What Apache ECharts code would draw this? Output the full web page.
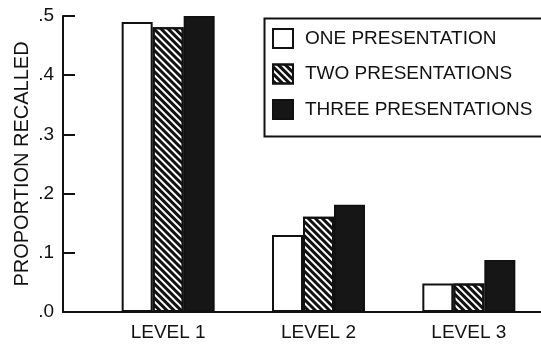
<!DOCTYPE html>
<html>
<head>
<meta charset="utf-8">
<script src="https://cdn.jsdelivr.net/npm/echarts@6/dist/echarts.min.js"></script>
<style>
html,body{margin:0;padding:0;background:#fff;}
#chart{width:541px;height:344px;}
</style>
</head>
<body>
<div id="chart"></div>
<script>
const categories = ['LEVEL 1', 'LEVEL 2', 'LEVEL 3'];
const seriesNames = ['ONE PRESENTATION', 'TWO PRESENTATIONS', 'THREE PRESENTATIONS'];
const onePresentation = [0.49, 0.13, 0.048];
const twoPresentations = [0.481, 0.161, 0.048];
const threePresentations = [0.50, 0.181, 0.088];
const yTicks = ['.0', '.1', '.2', '.3', '.4', '.5'];
const yTitle = 'PROPORTION RECALLED';

const FONT = 'Liberation Sans, Arial, Helvetica, sans-serif';
const INK = '#111';

const chart = echarts.init(document.getElementById('chart'), null, {renderer: 'canvas'});

const hatch = {
  symbol: 'rect',
  symbolSize: 1,
  color: INK,
  dashArrayX: [1, 0],
  dashArrayY: [2.4, 2],
  rotation: Math.PI / 4
};

chart.setOption({
  animation: false,
  backgroundColor: '#fff',
  textStyle: {fontFamily: FONT, color: INK},
  grid: [
    {left: 63, right: 0, top: 16, bottom: 32, outerBoundsMode: 'none'},
    {left: 93, right: -3, top: 16, bottom: 32, outerBoundsMode: 'none'},
    {left: 63, right: 466, top: 16, bottom: 32, outerBoundsMode: 'none'}
  ],
  legend: {
    orient: 'vertical',
    left: 262,
    top: 16,
    padding: [12, 0, 17, 10],
    itemWidth: 20,
    itemHeight: 19,
    itemGap: 14.5,
    selectedMode: false,
    icon: 'rect',
    textStyle: {fontFamily: FONT, fontSize: 19, color: INK, padding: [0, 0, 0, 7]},
    data: seriesNames
  },
  graphic: [{
    type: 'rect', left: 262, top: 16, silent: true,
    shape: {width: 320, height: 118},
    style: {fill: 'none', stroke: INK, lineWidth: 2}
  }],
  xAxis: [
    {
      type: 'value', gridIndex: 0,
      axisLine: {show: true, onZero: false, lineStyle: {color: INK, width: 2}},
      axisTick: {show: false}, axisLabel: {show: false}, splitLine: {show: false}
    },
    {
      type: 'category', gridIndex: 1, data: categories,
      axisLine: {show: false}, axisTick: {show: false},
      axisLabel: {fontFamily: FONT, fontSize: 19, color: INK, margin: 11}
    },
    {
      type: 'value', gridIndex: 2, show: false
    }
  ],
  yAxis: [
    {
      type: 'value', gridIndex: 0, min: 0, max: 0.5, interval: 0.1,
      name: yTitle, nameLocation: 'middle', nameRotate: 90, nameGap: 31,
      nameMoveOverlap: false,
      nameTextStyle: {fontFamily: FONT, fontSize: 20, color: INK},
      axisLine: {show: true, onZero: false, lineStyle: {color: INK, width: 2}},
      axisTick: {show: false},
      axisLabel: {
        fontFamily: FONT, fontSize: 19, color: INK, margin: 9,
        formatter: (v) => yTicks[Math.round(v * 10)]
      },
      splitLine: {show: false}
    },
    {
      type: 'value', gridIndex: 1, min: 0, max: 0.5, interval: 0.1, show: false
    },
    {
      type: 'value', gridIndex: 2, min: 0, max: 0.5, interval: 0.1,
      axisLine: {show: false}, axisTick: {show: false}, axisLabel: {show: false},
      splitLine: {show: true, showMinLine: true, showMaxLine: true, lineStyle: {color: INK, width: 2}}
    }
  ],
  series: [
    {
      name: seriesNames[0], type: 'bar', xAxisIndex: 1, yAxisIndex: 1,
      data: onePresentation, barWidth: 31, barGap: '0%',
      itemStyle: {color: '#fff', borderColor: INK, borderWidth: 2}
    },
    {
      name: seriesNames[1], type: 'bar', xAxisIndex: 1, yAxisIndex: 1,
      data: twoPresentations, barWidth: 31, barGap: '0%',
      itemStyle: {color: '#fff', borderColor: INK, borderWidth: 2, decal: hatch}
    },
    {
      name: seriesNames[2], type: 'bar', xAxisIndex: 1, yAxisIndex: 1,
      data: threePresentations, barWidth: 31, barGap: '0%',
      itemStyle: {color: '#161616', borderColor: INK, borderWidth: 2}
    }
  ]
});
</script>
</body>
</html>
